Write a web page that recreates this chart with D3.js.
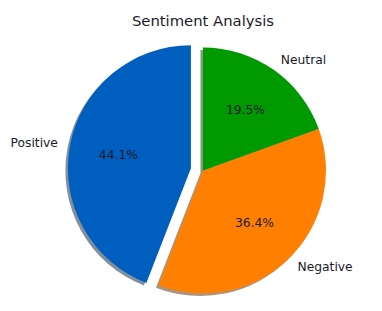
<!DOCTYPE html>
<html>
<head>
<meta charset="utf-8">
<script src="https://cdn.jsdelivr.net/npm/d3@7"></script>
<style>
  body { margin: 0; background: #fff; }
  text { font-family: "DejaVu Sans", sans-serif; fill: #1a1a2a; }
</style>
</head>
<body>
<div class="bg"></div>
<script>
// data
const labels = ["Positive", "Negative", "Neutral"];
const shares = [44.1, 36.4, 19.5];
const colors = ["#005ebe", "#ff7f00", "#009900"];

const width = 382, height = 311;
const cx = 203, cy = 170.5, radius = 123;
const explodeFrac = { "Positive": 0.1 };

const svg = d3.select(".bg").append("svg")
  .attr("width", width)
  .attr("height", height);

svg.append("text")
  .attr("x", cx)
  .attr("y", 25.5)
  .attr("text-anchor", "middle")
  .style("font-size", "14.8px")
  .text("Sentiment Analysis");

const data = labels.map((l, i) => ({ label: l, value: shares[i], color: colors[i] }));

// matplotlib style: start at 12 o'clock and go counterclockwise
const pie = d3.pie().sort(null).value(d => d.value)
  .startAngle(0).endAngle(-2 * Math.PI);
const arcs = pie(data);

const arc = d3.arc().innerRadius(0).outerRadius(radius);

function mid(d) { return (d.startAngle + d.endAngle) / 2; }
function offset(d) {
  const e = (explodeFrac[d.data.label] || 0) * radius;
  const a = mid(d);
  return [cx + Math.sin(a) * e, cy - Math.cos(a) * e];
}

// shadows
svg.append("g").selectAll("path")
  .data(arcs)
  .enter().append("path")
  .attr("transform", d => {
    const o = offset(d);
    return "translate(" + (o[0] - 2.5) + "," + (o[1] + 2.5) + ")";
  })
  .attr("d", arc)
  .attr("fill", d => d3.rgb(d.data.color).darker(3))
  .attr("opacity", 0.5);

// wedges
svg.append("g").selectAll("path")
  .data(arcs)
  .enter().append("path")
  .attr("transform", d => "translate(" + offset(d) + ")")
  .attr("d", arc)
  .attr("fill", d => d.data.color);

// outer labels
svg.append("g").selectAll("text")
  .data(arcs)
  .enter().append("text")
  .attr("x", d => offset(d)[0] + Math.sin(mid(d)) * radius * 1.1)
  .attr("y", d => offset(d)[1] - Math.cos(mid(d)) * radius * 1.1)
  .attr("text-anchor", d => Math.sin(mid(d)) < 0 ? "end" : "start")
  .attr("dominant-baseline", "central")
  .style("font-size", "12.3px")
  .text(d => d.data.label);

// percentages
svg.append("g").selectAll("text")
  .data(arcs)
  .enter().append("text")
  .attr("x", d => offset(d)[0] + Math.sin(mid(d)) * radius * 0.6)
  .attr("y", d => offset(d)[1] - Math.cos(mid(d)) * radius * 0.6)
  .attr("text-anchor", "middle")
  .attr("dominant-baseline", "central")
  .style("font-size", "12.3px")
  .text(d => d.data.value.toFixed(1) + "%");
</script>
</body>
</html>
